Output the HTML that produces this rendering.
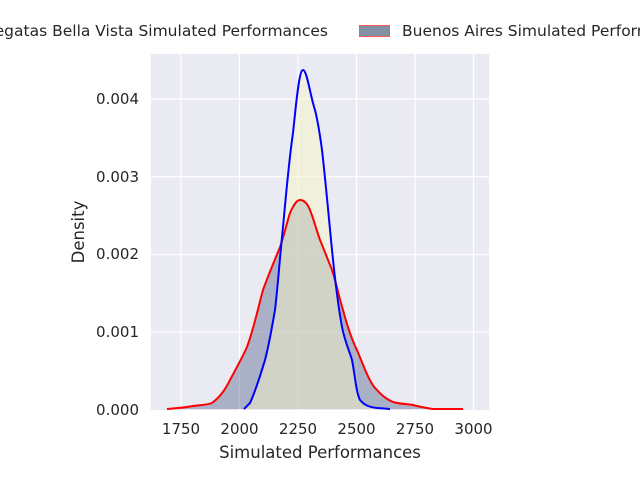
<!DOCTYPE html><html><head><style>body{margin:0;background:#fff}</style></head><body>
<svg width="640" height="480" xmlns="http://www.w3.org/2000/svg" font-family="DejaVu Sans, Liberation Sans, sans-serif" fill="#262626">
<rect x="151" y="54" width="338" height="356" fill="#eaeaf2"/>
<g stroke="#fff" stroke-width="1.2">
<line x1="181" y1="54" x2="181" y2="410"/><line x1="239.5" y1="54" x2="239.5" y2="410"/><line x1="298" y1="54" x2="298" y2="410"/><line x1="356.5" y1="54" x2="356.5" y2="410"/><line x1="415" y1="54" x2="415" y2="410"/><line x1="473.5" y1="54" x2="473.5" y2="410"/>
<line x1="151" y1="332.2" x2="489" y2="332.2"/><line x1="151" y1="254.5" x2="489" y2="254.5"/><line x1="151" y1="176.7" x2="489" y2="176.7"/><line x1="151" y1="99" x2="489" y2="99"/>
</g>
<path d="M167,409 C180,408 188,407 193,406 C200,405 207,405 212,403 C220,397 225,390 230,380 C237,367 242,358 247,347 C254,328 258,308 263,290 C268,276 274,262 280,247 C284,236 287,222 290,213 C294,204 297,200 300,200 C305,200 308,205 310,210 C314,220 317,232 320,240 C325,252 328,260 332,270 C336,282 339,297 343,310 C347,325 352,340 357,350 C364,367 370,384 377,390 C383,397 388,400 393,402 C400,404 407,404 413,405 C420,407 427,408 433,409 L463,409 Z" fill="rgba(80,96,135,0.42)" stroke="none"/>
<path d="M244,409 L250,403 C256,390 261,373 265,360 C269,345 272,327 275,310 C278,285 280,255 283,227 C286,195 289,160 293,133 C296,105 299,70 303,70 C307,70 310,95 315,110 C318,122 320,135 322,150 C326,185 329,220 332,250 C335,280 338,305 342,327 C345,342 349,350 352,360 C355,375 356,392 360,400 C365,406 370,407 377,408 L390,409 Z" fill="rgba(245,245,200,0.5)" stroke="none"/>
<path d="M167,409 C180,408 188,407 193,406 C200,405 207,405 212,403 C220,397 225,390 230,380 C237,367 242,358 247,347 C254,328 258,308 263,290 C268,276 274,262 280,247 C284,236 287,222 290,213 C294,204 297,200 300,200 C305,200 308,205 310,210 C314,220 317,232 320,240 C325,252 328,260 332,270 C336,282 339,297 343,310 C347,325 352,340 357,350 C364,367 370,384 377,390 C383,397 388,400 393,402 C400,404 407,404 413,405 C420,407 427,408 433,409 L463,409" fill="none" stroke="#ff0000" stroke-width="2"/>
<path d="M244,409 L250,403 C256,390 261,373 265,360 C269,345 272,327 275,310 C278,285 280,255 283,227 C286,195 289,160 293,133 C296,105 299,70 303,70 C307,70 310,95 315,110 C318,122 320,135 322,150 C326,185 329,220 332,250 C335,280 338,305 342,327 C345,342 349,350 352,360 C355,375 356,392 360,400 C365,406 370,407 377,408 L390,409" fill="none" stroke="#0000ff" stroke-width="2"/>
<g font-size="15" text-anchor="middle">
<text x="181" y="434">1750</text><text x="239.5" y="434">2000</text><text x="298" y="434">2250</text><text x="356.5" y="434">2500</text><text x="415" y="434">2750</text><text x="473.5" y="434">3000</text>
</g>
<g font-size="15" text-anchor="end">
<text x="139" y="415">0.000</text><text x="139" y="337">0.001</text><text x="139" y="259">0.002</text><text x="139" y="182">0.003</text><text x="139" y="104">0.004</text>
</g>
<text x="320" y="458" font-size="16.5" text-anchor="middle">Simulated Performances</text>
<text x="84" y="232" font-size="16.5" text-anchor="middle" transform="rotate(-90 84 232)">Density</text>
<text x="328" y="36" font-size="15.5" text-anchor="end">Regatas Bella Vista Simulated Performances</text>
<rect x="359.5" y="25.5" width="30" height="11" fill="#8391a5" stroke="#ff5555" stroke-width="1"/>
<text x="402" y="36" font-size="15.5">Buenos Aires Simulated Performances</text>
</svg>
</body></html>
